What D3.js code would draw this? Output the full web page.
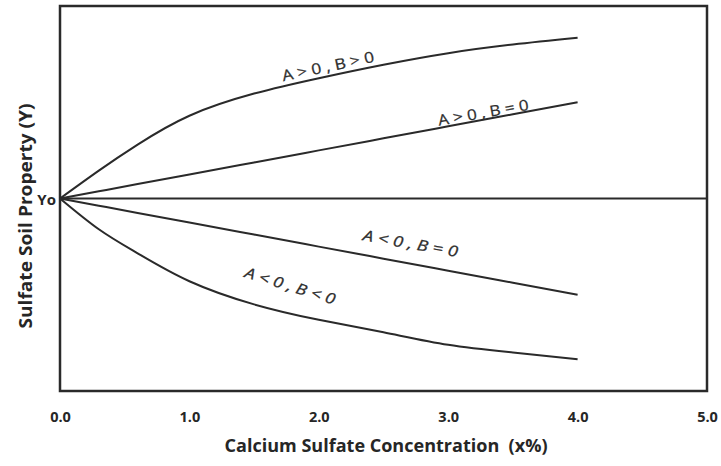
<!DOCTYPE html>
<html>
<head>
<meta charset="utf-8">
<script src="https://cdn.jsdelivr.net/npm/d3@7"></script>
<style>
  html, body { margin: 0; padding: 0; background: #fff; }
  svg { display: block; }
  text { font-family: "Open Sans", "Noto Sans", sans-serif; fill: #262626; }
</style>
</head>
<body>
<svg id="chart" width="721" height="466"></svg>
<script>
// Concentration (x%) at which each response curve is sampled
const concentration = [0, 0.3, 0.6, 1.0, 1.5, 2.0, 2.5, 3.0, 3.5, 4.0];

// Relative change of the soil property from its initial value Yo
const posPos = [0, 0.145, 0.28, 0.43, 0.545, 0.625, 0.695, 0.755, 0.80, 0.835];   // A > 0, B > 0
const posZero = [0, 0.0375, 0.075, 0.125, 0.1875, 0.25, 0.3125, 0.375, 0.4375, 0.5]; // A > 0, B = 0
const negZero = [0, -0.0375, -0.075, -0.125, -0.1875, -0.25, -0.3125, -0.375, -0.4375, -0.5]; // A < 0, B = 0
const negNeg = [0, -0.16, -0.285, -0.43, -0.55, -0.63, -0.695, -0.76, -0.80, -0.835]; // A < 0, B < 0
const baseline = [0, 0]; // Yo reference level
const baselineX = [0, 5];

const xTicks = [0, 1, 2, 3, 4, 5];

const curveNames = ["A > 0 , B > 0", "A > 0 , B = 0", "A < 0 , B = 0", "A < 0 , B < 0"];
const xTitle = "Calcium Sulfate Concentration\u00a0 (x%)";
const yTitle = "Sulfate Soil Property (Y)";
const originLabel = "Yo";

const svg = d3.select("#chart");
const plotLeft = 60, plotRight = 707, plotTop = 6, plotBottom = 391;

const x = d3.scaleLinear().domain([0, 5]).range([plotLeft, plotRight]);
const y = d3.scaleLinear().domain([-1, 1]).range([plotBottom, plotTop]);

const ink = "#2a2a2a";

const line = d3.line()
  .x(d => x(d[0]))
  .y(d => y(d[1]))
  .curve(d3.curveNatural);

// Frame of the plotting area
svg.append("rect")
  .attr("x", plotLeft).attr("y", plotTop)
  .attr("width", plotRight - plotLeft).attr("height", plotBottom - plotTop)
  .attr("fill", "none").attr("stroke", ink).attr("stroke-width", 2.5);

// Yo reference line
svg.append("path")
  .attr("d", line(baselineX.map((v, i) => [v, baseline[i]])))
  .attr("fill", "none").attr("stroke", ink).attr("stroke-width", 2.2);

// Response curves
const series = [posPos, posZero, negZero, negNeg];
series.forEach(vals => {
  svg.append("path")
    .attr("d", line(concentration.map((c, i) => [c, vals[i]])))
    .attr("fill", "none")
    .attr("stroke", ink)
    .attr("stroke-width", 2)
    .attr("stroke-linecap", "butt");
});

// Curve labels, set along each curve
const labelSpecs = [
  { name: curveNames[0], at: 2.07, val: 0.69, angle: -12, italic: false, len: 94 },
  { name: curveNames[1], at: 3.27, val: 0.45, angle: -10, italic: false, len: 92 },
  { name: curveNames[2], at: 2.71, val: -0.23, angle: 10, italic: true, len: 96 },
  { name: curveNames[3], at: 1.78, val: -0.45, angle: 17, italic: true, len: 94 }
];
labelSpecs.forEach(s => {
  svg.append("text")
    .attr("transform", `translate(${x(s.at)},${y(s.val)}) rotate(${s.angle})`)
    .attr("text-anchor", "middle")
    .attr("dominant-baseline", "central")
    .attr("font-size", 15)
    .attr("font-style", s.italic ? "italic" : "normal")
    .attr("textLength", s.len)
    .attr("lengthAdjust", "spacingAndGlyphs")
    .style("fill", "#2e2e2e")
    .style("stroke", "#2e2e2e")
    .style("stroke-width", 0.25)
    .text(s.name);
});

// Yo marker label
svg.append("text")
  .attr("x", plotLeft - 4).attr("y", y(0))
  .attr("text-anchor", "end")
  .attr("dominant-baseline", "central")
  .attr("font-size", 15)
  .attr("font-weight", "bold")
  .text(originLabel);

// X axis ticks
const xAxis = d3.axisBottom(x)
  .tickValues(xTicks)
  .tickFormat(d3.format(".1f"))
  .tickSize(0)
  .tickPadding(0);
const gx = svg.append("g")
  .attr("transform", `translate(0,${plotBottom + 21})`)
  .call(xAxis);
gx.attr("font-size", 14.5)
  .attr("font-family", "Open Sans, Noto Sans, sans-serif");
gx.select(".domain").remove();
gx.selectAll("text")
  .attr("font-weight", "bold")
  .attr("fill", "#262626");

// Axis titles
svg.append("text")
  .attr("x", 386).attr("y", 452)
  .attr("text-anchor", "middle")
  .attr("font-size", 17)
  .attr("font-weight", "bold")
  .attr("textLength", 323)
  .attr("lengthAdjust", "spacingAndGlyphs")
  .text(xTitle);

svg.append("text")
  .attr("transform", "translate(32,216) rotate(-90)")
  .attr("text-anchor", "middle")
  .attr("font-size", 17)
  .attr("font-weight", "bold")
  .attr("textLength", 225)
  .attr("lengthAdjust", "spacingAndGlyphs")
  .text(yTitle);
</script>
</body>
</html>
